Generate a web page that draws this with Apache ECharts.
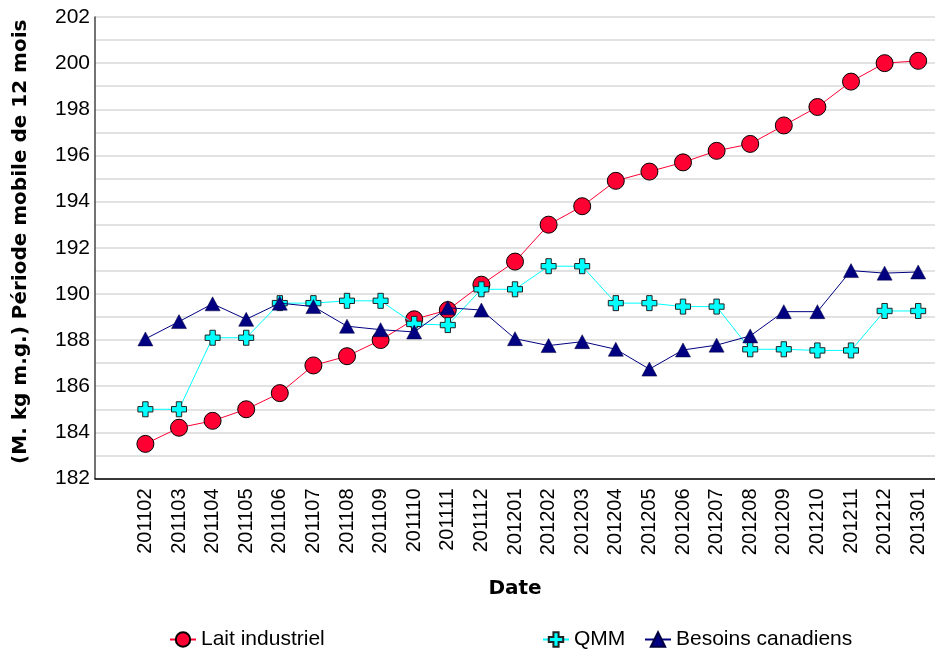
<!DOCTYPE html>
<html><head><meta charset="utf-8">
<script src="https://cdn.jsdelivr.net/npm/echarts@6/dist/echarts.min.js"></script>
<style>html,body{margin:0;padding:0;background:#fff}#c{width:935px;height:651px}</style>
</head><body><div id="c"></div>
<script>
const categories = ['201102','201103','201104','201105','201106','201107','201108','201109','201110','201111','201112','201201','201202','201203','201204','201205','201206','201207','201208','201209','201210','201211','201212','201301'];
const laitIndustriel = [183.5,184.2,184.5,185.0,185.7,186.9,187.3,188.0,188.9,189.3,190.4,191.4,193.0,193.8,194.9,195.3,195.7,196.2,196.5,197.3,198.1,199.2,200.0,200.1];
const qmm = [185.0,185.0,188.1,188.1,189.6,189.6,189.7,189.7,188.7,188.65,190.2,190.2,191.2,191.2,189.6,189.6,189.45,189.45,187.6,187.6,187.55,187.55,189.26,189.26];
const besoins = [188.05,188.8,189.57,188.9,189.6,189.45,188.6,188.45,188.35,189.4,189.3,188.06,187.76,187.93,187.6,186.74,187.57,187.78,188.18,189.23,189.23,191.01,190.9,190.95];
const seriesNames = ['Lait industriel','QMM','Besoins canadiens'];

const plusPath = 'path://M3.2,0 H6.8 V3.2 H10 V6.8 H6.8 V10 H3.2 V6.8 H0 V3.2 H3.2 Z';
const chart = echarts.init(document.getElementById('c'));
const txt = {fontFamily:'Liberation Sans, Arial, sans-serif', color:'#000'};
function legendAt(left, name){
  return {left:left, top:624, itemWidth:26, itemHeight:18, data:[name],
    textStyle:{fontFamily:'Liberation Sans, Arial, sans-serif', fontSize:21, color:'#000'}};
}
chart.setOption({
  animation:false,
  grid:{left:95, right:0, top:17, bottom:172.5},
  legend:[legendAt(164,seriesNames[0]), legendAt(537,seriesNames[1]), legendAt(639,seriesNames[2])],
  xAxis:{type:'category', data:[''].concat(categories), boundaryGap:true,
    name:'Date', nameLocation:'middle', nameGap:100,
    nameTextStyle:{fontFamily:'DejaVu Sans, Verdana, sans-serif', fontWeight:'bold', fontSize:20, color:'#000'},
    axisLine:{lineStyle:{color:'#000', width:1.5}}, axisTick:{show:false},
    axisLabel:Object.assign({rotate:90, fontSize:20, margin:10, interval:0}, txt)},
  yAxis:{type:'value', min:182, max:202, interval:1,
    name:'(M. kg m.g.) Période mobile de 12 mois', nameLocation:'middle', nameGap:64,
    nameTextStyle:{fontFamily:'DejaVu Sans, Verdana, sans-serif', fontWeight:'bold', fontSize:20, color:'#000', padding:[0,0,0,12]},
    axisLine:{show:true, lineStyle:{color:'#444', width:1.5}},
    axisTick:{show:false},
    splitLine:{lineStyle:{color:'#d9d9d9', width:1.5}},
    axisLabel:Object.assign({fontSize:21, margin:5, formatter:v => (v % 2 === 0 ? String(v) : '')}, txt)},
  series:[
    {name:seriesNames[0], type:'line', data:[null].concat(laitIndustriel), symbol:'circle', symbolSize:17,
      itemStyle:{color:'#ff0033', borderColor:'#000', borderWidth:1}, lineStyle:{color:'#ff0033', width:1}, z:2},
    {name:seriesNames[1], type:'line', data:[null].concat(qmm), symbol:plusPath, symbolSize:15,
      itemStyle:{color:'#00ffff', borderColor:'#222', borderWidth:1}, lineStyle:{color:'#00ffff', width:1}, z:3},
    {name:seriesNames[2], type:'line', data:[null].concat(besoins), symbol:'triangle', symbolSize:[15,14],
      itemStyle:{color:'#000080', borderColor:'#000040', borderWidth:0.5}, lineStyle:{color:'#000080', width:1}, z:4}
  ]
});
</script></body></html>
